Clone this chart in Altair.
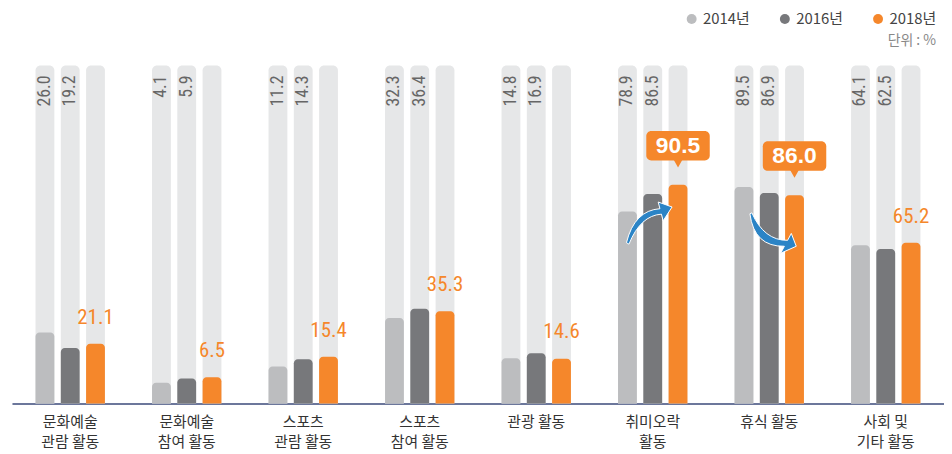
import json
import altair as alt
import pandas as pd

categories = ["문화예술\n관람 활동", "문화예술\n참여 활동", "스포츠\n관람 활동", "스포츠\n참여 활동",
              "관광 활동", "취미오락\n활동", "휴식 활동", "사회 및\n기타 활동"]
series = ["2014년", "2016년", "2018년"]
v2014 = [26.0, 4.1, 11.2, 32.3, 14.8, 78.9, 89.5, 64.1]
v2016 = [19.2, 5.9, 14.3, 36.4, 16.9, 86.5, 86.9, 62.5]
v2018 = [21.1, 6.5, 15.4, 35.3, 14.6, 90.5, 86.0, 65.2]
callouts = ["취미오락\n활동", "휴식 활동"]
arrow_up = ["취미오락\n활동"]
arrow_down = ["휴식 활동"]
colors = ["#bcbdbf", "#77787b", "#f5872b"]
unit_text = "단위 : %"

rows = []
for i, c in enumerate(categories):
    for s, vals in zip(series, [v2014, v2016, v2018]):
        rows.append({"cat": c, "series": s, "v": vals[i]})
df = pd.DataFrame(rows)

Y_MIN, Y_MAX = -5, 166.9
BG_TOP = 142.6
LABEL_TOP = 138.3
ORANGE = "#f5872b"
NUM_FONT = "Liberation Sans Narrow, Roboto Condensed, Liberation Sans, Arial"
KR_FONT = "Noto Sans CJK KR"


def in_list(lst):
    return "indexof(" + json.dumps(lst, ensure_ascii=False) + ", datum.cat) >= 0"


LAST = "datum.series == '2018년'"

yscale = alt.Scale(domain=[Y_MIN, Y_MAX], nice=False, zero=False)
x = alt.X("cat:N", sort=categories,
          scale=alt.Scale(domain=categories, paddingInner=0.349, paddingOuter=0.1745),
          axis=alt.Axis(title=None, labelExpr="split(datum.value, '\\n')", labelAngle=0,
                        labelFont=KR_FONT, labelFontSize=15, labelColor="#333333",
                        labelPadding=11, labelLineHeight=20, labelBaseline="top",
                        ticks=False, domainColor="#3b4a7a", domainWidth=1.5))
xoff_scale = alt.Scale(domain=series, paddingInner=0.255, paddingOuter=0.1275)
xoff = alt.XOffset("series:N", scale=xoff_scale)

base = alt.Chart(df).encode(x=x, xOffset=xoff)

bg = base.transform_calculate(bg=str(BG_TOP), b0=str(Y_MIN)).mark_bar(
    color="#e6e7e8", cornerRadiusTopLeft=5, cornerRadiusTopRight=5
).encode(y=alt.Y("bg:Q", scale=yscale, axis=None), y2="b0:Q")

bars = base.transform_calculate(b0=str(Y_MIN)).mark_bar(
    cornerRadiusTopLeft=4, cornerRadiusTopRight=4
).encode(
    y=alt.Y("v:Q", scale=yscale, axis=None), y2="b0:Q",
    color=alt.Color("series:N", scale=alt.Scale(domain=series, range=colors),
                    legend=alt.Legend(title=unit_text, orient="none", legendX=678, legendY=1.5,
                                      direction="horizontal", titleOrient="bottom", titleAnchor="end",
                                      symbolType="circle", symbolSize=100, symbolStrokeWidth=0,
                                      labelFont=KR_FONT, labelFontSize=15, labelColor="#444444",
                                      labelOffset=4, columnPadding=27, padding=0,
                                      titleFont=KR_FONT, titleFontSize=14, titleColor="#888888",
                                      titleFontWeight="normal", titlePadding=7))
)

vlabels = base.transform_filter("datum.series != '2018년'").transform_calculate(
    ly=str(LABEL_TOP)
).mark_text(angle=270, align="right", baseline="middle", font=NUM_FONT, fontSize=18, color="#666666").encode(
    y=alt.Y("ly:Q", scale=yscale, axis=None), text=alt.Text("v:Q", format=".1f"))

olabels = base.transform_filter(
    LAST + " && !(" + in_list(callouts) + ")"
).transform_calculate(ly="datum.v + 8.8").mark_text(
    align="center", baseline="alphabetic", font=NUM_FONT, fontSize=21, color=ORANGE
).encode(y=alt.Y("ly:Q", scale=yscale, axis=None), text=alt.Text("v:Q", format=".1f"))

cbase = base.transform_filter(LAST + " && " + in_list(callouts))

cbox = cbase.transform_calculate(by1="datum.v + 10.6", by2="datum.v + 23.5").mark_bar(
    width=64, cornerRadius=5, color=ORANGE
).encode(y=alt.Y("by2:Q", scale=yscale, axis=None), y2="by1:Q")

cptr = cbase.transform_calculate(py="datum.v + 9.1").mark_point(
    shape="M-0.9,-1 L0.9,-1 L0,0.6 Z", size=144, filled=True, color=ORANGE, opacity=1, strokeWidth=0
).encode(y=alt.Y("py:Q", scale=yscale, axis=None))

ctext = cbase.transform_calculate(ty="datum.v + 17").mark_text(
    align="center", baseline="middle", font="Liberation Sans, Arial", fontSize=23, fontWeight="bold",
    color="white"
).encode(y=alt.Y("ty:Q", scale=yscale, axis=None), text=alt.Text("v:Q", format=".1f"))

UP_PATH = "M -1.06,0.8 Q -0.74,-0.5 0.29,-0.57 L 0.22,-0.84 L 0.78,-0.64 L 0.42,-0.08 L 0.35,-0.35 Q -0.49,-0.3 -0.96,0.86 Z"
DOWN_PATH = "M -0.78,-0.78 Q -0.61,0.55 0.61,0.53 L 0.46,0.81 L 1.09,0.53 L 0.89,0.01 L 0.74,0.29 Q -0.21,0.3 -0.70,-0.82 Z"


def arrow(cats, path):
    return alt.Chart(df).transform_filter(
        LAST + " && " + in_list(cats)
    ).transform_calculate(ay="datum.v - 16.6", aser="'2016년'").mark_point(
        shape=path, size=2500, filled=True, fill="#2b84c6", stroke="white", strokeWidth=1, opacity=1
    ).encode(x=x, xOffset=alt.XOffset("aser:N", scale=xoff_scale),
             y=alt.Y("ay:Q", scale=yscale, axis=None))


chart = alt.layer(bg, bars, vlabels, olabels, cbox, cptr, ctext,
                  arrow(arrow_up, UP_PATH), arrow(arrow_down, DOWN_PATH)).properties(
    width=940, height=397, padding={"left": 4, "top": 0, "right": 0, "bottom": 0}
).configure_view(stroke=None)

chart.save("out.html", embed_options={"renderer": "svg", "actions": False})
